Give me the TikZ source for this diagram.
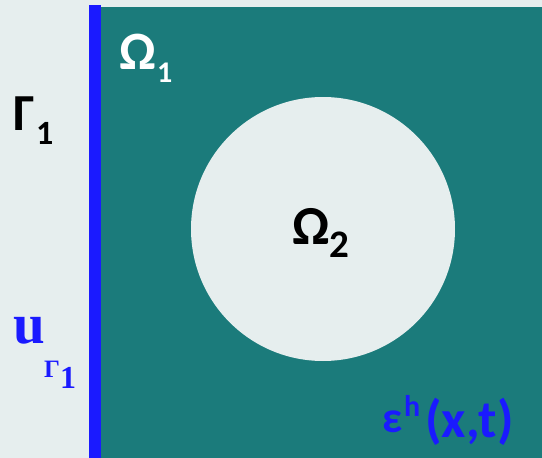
\documentclass[tikz,border=0pt]{standalone}
\usepackage{fontspec}
\setmainfont{Carlito}
\newfontfamily\serifb{Liberation Serif}
\definecolor{bgc}{HTML}{E6EEEE}
\definecolor{teal1}{HTML}{1B7B7B}
\definecolor{blue1}{HTML}{1A1AFF}
\tikzset{lbl/.style={inner sep=0pt,anchor=base west,font=\bfseries}}
\newcommand{\fs}[1]{\fontsize{#1}{#1}\selectfont}
\begin{document}
\begin{tikzpicture}[x=1pt,y=-1pt]
\fill[bgc] (0,0) rectangle (542,458);
\useasboundingbox (0,0) rectangle (542,458);
\fill[teal1] (101,7) rectangle (542,458);
\fill[blue1] (89,5) rectangle (101,458);
\fill[bgc] (323,229) circle (132);
% Omega 1
\node[lbl,text=white] (om1) at (119,69) {\fs{54}Ω};
\node[lbl,text=white] (om1s) at (157,82) {\fs{30}1};
% Gamma 1
\node[lbl,text=black] (g1) at (13,130) {\fs{52}Γ};
\node[lbl,text=black] (g1s) at (36,144) {\fs{34}1};
% Omega 2
\node[lbl,text=black] (om2) at (292,244) {\fs{55}Ω};
\node[lbl,text=black] (om2s) at (329,257) {\fs{39}2};
% u Gamma 1
\node[lbl,text=blue1] (u) at (13,343) {\serifb\fs{57}u};
\node[lbl,text=blue1] (ug) at (44,377) {\serifb\fs{25}Γ};
\node[lbl,text=blue1] (ug1) at (60,388) {\serifb\fs{32}1};
% epsilon
\node[lbl,text=blue1] (eps) at (382,432) {\fs{44}ε};
\node[lbl,text=blue1] (epsh) at (404,416) {\fs{30}h};
\node[lbl,text=blue1] (epsx) at (425,437) {\fs{53}(x,t)};
\end{tikzpicture}
\end{document}
